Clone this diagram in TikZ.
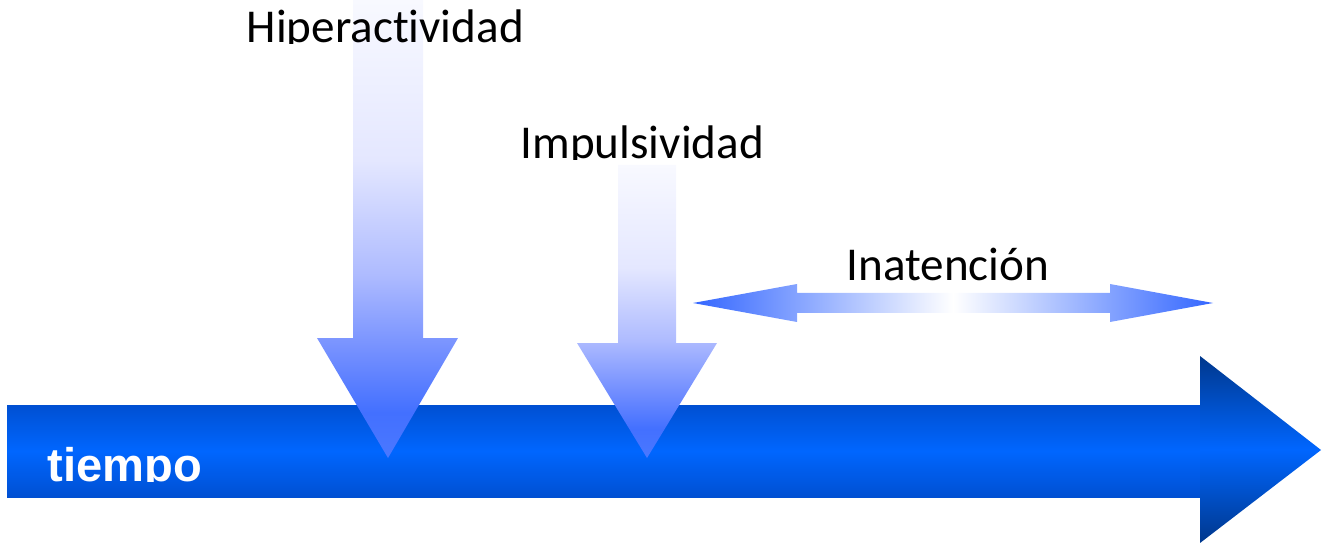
\documentclass[tikz,border=0pt]{standalone}
\usepackage{fontspec}
\newfontfamily\calfont[Ligatures=NoCommon]{Carlito}
\newfontfamily\arfont{Liberation Sans}
\definecolor{barmid}{HTML}{0066FF}
\definecolor{baredge}{HTML}{0050D2}
\definecolor{headedge}{HTML}{00378C}
\definecolor{hblue}{HTML}{3366FF}
\definecolor{dA}{HTML}{F8F9FF}
\definecolor{dB}{HTML}{E4E7FF}
\definecolor{dC}{HTML}{AEBBFF}
\definecolor{dD}{HTML}{6F8CFF}
\definecolor{dE}{HTML}{4370FF}
\definecolor{dF}{HTML}{4A78FF}
\pgfdeclareverticalshading{downshade}{100bp}{color(0bp)=(dF); color(25bp)=(dF); color(30bp)=(dE); color(36bp)=(dD); color(45bp)=(dC); color(57.5bp)=(dB); color(75bp)=(dA); color(100bp)=(dA)}
\tikzset{
  lbl/.style={inner sep=0pt, anchor=base west, font=\calfont\fontsize{13.4}{16}\selectfont, text=black},
  downarrow/.style={shading=downshade},
}
\begin{document}
\begin{tikzpicture}[x=0.01cm,y=-0.01cm]
\useasboundingbox (0,0) rectangle (1325,543);
% main time arrow
\shade[top color=baredge, bottom color=baredge, middle color=barmid] (7,405) rectangle (1201,497);
\shade[top color=headedge, bottom color=headedge, middle color=barmid] (1200,356) -- (1321,450) -- (1200,543) -- cycle;
\begin{scope}
\clip (0,400) rectangle (1200,481);
\node[inner sep=0pt, anchor=base west, font=\arfont\bfseries\fontsize{13.4}{16}\selectfont, text=white] (tiempo) at (47,481) {tiempo};
\end{scope}
% Hiperactividad arrow
\shade[downarrow] (353,0) -- (423,0) -- (423,338) -- (458,338) -- (388,458) -- (317,338) -- (353,338) -- cycle;
\begin{scope}
\clip (0,0) rectangle (1325,44);
\node[lbl] (hiper) at (246,43) {Hiperactividad};
\end{scope}
% Impulsividad arrow
\shade[downarrow] (618,165) -- (676,165) -- (676,343) -- (717,343) -- (647,458) -- (577,343) -- (618,343) -- cycle;
\begin{scope}
\clip (0,100) rectangle (1325,160);
\node[lbl] (impul) at (520,159) {Impulsividad};
\end{scope}
% Inatencion double arrow
\shade[left color=hblue, right color=hblue, middle color=white]
  (693,303) -- (797,284) -- (797,293) -- (1110,293) -- (1110,284) -- (1213,303)
  -- (1110,322) -- (1110,313) -- (797,313) -- (797,322) -- cycle;
\node[lbl] (inat) at (846,281) {Inatención};
\end{tikzpicture}
\end{document}
